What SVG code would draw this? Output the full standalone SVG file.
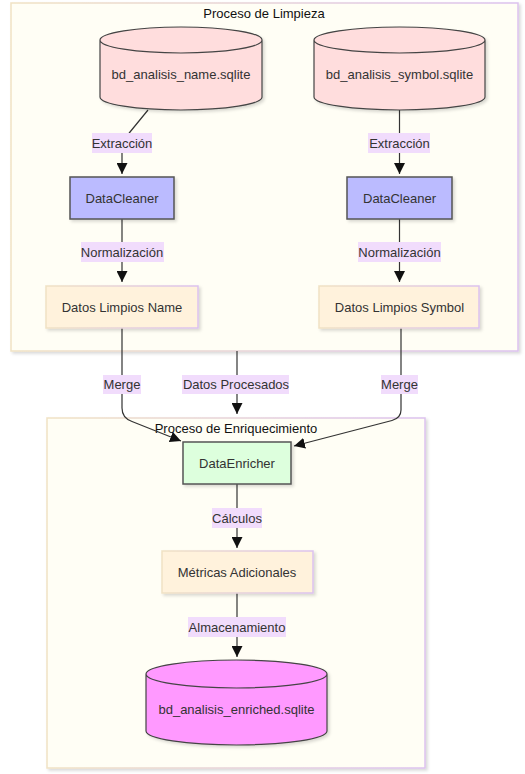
<svg xmlns="http://www.w3.org/2000/svg" width="525" height="774" viewBox="0 0 525 774">
<defs>
  <linearGradient id="cgrad" x1="0" y1="0" x2="1" y2="0">
    <stop offset="0" stop-color="#f0e2c4"/>
    <stop offset="1" stop-color="#dcc2ee"/>
  </linearGradient>
  <filter id="sh" x="-10%" y="-10%" width="125%" height="130%">
    <feDropShadow dx="2" dy="2" stdDeviation="1.5" flood-color="#000" flood-opacity="0.15"/>
  </filter>
  <marker id="arr" viewBox="0 0 10 10" refX="10" refY="5" markerWidth="11" markerHeight="11" markerUnits="userSpaceOnUse" orient="auto">
    <path d="M0,0 L10,5 L0,10 z" fill="#111"/>
  </marker>
</defs>
<style>
  text { font-family: "Liberation Sans", Arial, sans-serif; font-size: 13px; text-anchor: middle; dominant-baseline: central; fill: #333; }
  .title { fill: #111; }
  .cluster { fill: #fffef5; stroke: url(#cgrad); stroke-width: 1.5; filter: url(#sh); }
  .db { fill: #ffdddd; stroke: #444; stroke-width: 1.2; filter: url(#sh); }
  .dbe { fill: #ff99ff; stroke: #444; stroke-width: 1.2; filter: url(#sh); }
  .cleaner { fill: #bbbbff; stroke: #555; stroke-width: 1.5; filter: url(#sh); }
  .enricher { fill: #ddffdd; stroke: #555; stroke-width: 1.5; filter: url(#sh); }
  .data { fill: #fff2dc; stroke: url(#cgrad); stroke-width: 1.5; filter: url(#sh); }
  .edge { fill: none; stroke: #333; stroke-width: 1.2; marker-end: url(#arr); }
  .lbl { fill: #f1dcfc; }
</style>

<g id="cluster-limpieza">
  <rect class="cluster" x="11" y="3" width="507" height="348"/>
  <text class="title" x="264" y="13">Proceso de Limpieza</text>
</g>
<g id="cluster-enriquecimiento">
  <rect class="cluster" x="47" y="418" width="378" height="350"/>
  <text class="title" x="236" y="428">Proceso de Enriquecimiento</text>
</g>

<g id="connectors">
  <path class="edge" d="M148,110 L130,132 Q122,142 122,152 L122,174"/>
  <path class="edge" d="M399.5,110 L399.5,174"/>
  <path class="edge" d="M122,219 L122,282"/>
  <path class="edge" d="M399.5,219 L399.5,282"/>
  <path class="edge" d="M122,328 L122,408 Q122,418 132,421.5 L181,441"/>
  <path class="edge" d="M401,328 L401,410 Q401,418 392,420.5 L294,446"/>
  <path class="edge" d="M237,351 L237,414"/>
  <path class="edge" d="M237,484 L237,548"/>
  <path class="edge" d="M237,593 L237,657"/>

  <rect class="lbl" x="92" y="133" width="60" height="20"/>
  <text x="122" y="143">Extracción</text>
  <rect class="lbl" x="368" y="133" width="62" height="20"/>
  <text x="399.5" y="143">Extracción</text>
  <rect class="lbl" x="81" y="242" width="83" height="20"/>
  <text x="122" y="252">Normalización</text>
  <rect class="lbl" x="358" y="242" width="83" height="20"/>
  <text x="399.5" y="252">Normalización</text>
  <rect class="lbl" x="103" y="375" width="38" height="19"/>
  <text x="122" y="384">Merge</text>
  <rect class="lbl" x="182" y="375" width="107" height="19"/>
  <text x="236" y="384">Datos Procesados</text>
  <rect class="lbl" x="381" y="375" width="37" height="19"/>
  <text x="399.5" y="384">Merge</text>
  <rect class="lbl" x="212" y="508" width="50" height="20"/>
  <text x="237" y="518">Cálculos</text>
  <rect class="lbl" x="188" y="617" width="98" height="20"/>
  <text x="237" y="627">Almacenamiento</text>
</g>

<g id="db-name">
  <path class="db" d="M100,40 a81,13 0 0 0 162,0 a81,13 0 0 0 -162,0 l0,57 a81,13 0 0 0 162,0 l0,-57"/>
  <text x="181" y="74">bd_analisis_name.sqlite</text>
</g>
<g id="db-symbol">
  <path class="db" d="M314,40 a85.5,13 0 0 0 171,0 a85.5,13 0 0 0 -171,0 l0,57 a85.5,13 0 0 0 171,0 l0,-57"/>
  <text x="399.5" y="74">bd_analisis_symbol.sqlite</text>
</g>
<g id="cleaner-name">
  <rect class="cleaner" x="70" y="177" width="104" height="42"/>
  <text x="122" y="198">DataCleaner</text>
</g>
<g id="cleaner-symbol">
  <rect class="cleaner" x="347" y="177" width="105" height="42"/>
  <text x="399.5" y="198">DataCleaner</text>
</g>
<g id="limpios-name">
  <rect class="data" x="46" y="286" width="152" height="42"/>
  <text x="122" y="307">Datos Limpios Name</text>
</g>
<g id="limpios-symbol">
  <rect class="data" x="319" y="286" width="160" height="42"/>
  <text x="399.5" y="307">Datos Limpios Symbol</text>
</g>
<g id="enricher">
  <rect class="enricher" x="183" y="442" width="108" height="42"/>
  <text x="237" y="463">DataEnricher</text>
</g>
<g id="metricas">
  <rect class="data" x="162" y="551" width="151" height="42"/>
  <text x="237" y="572">Métricas Adicionales</text>
</g>
<g id="db-enriched">
  <path class="dbe" d="M146,674 a90.5,14 0 0 0 181,0 a90.5,14 0 0 0 -181,0 l0,57 a90.5,14 0 0 0 181,0 l0,-57"/>
  <text x="236.5" y="709">bd_analisis_enriched.sqlite</text>
</g>
</svg>
